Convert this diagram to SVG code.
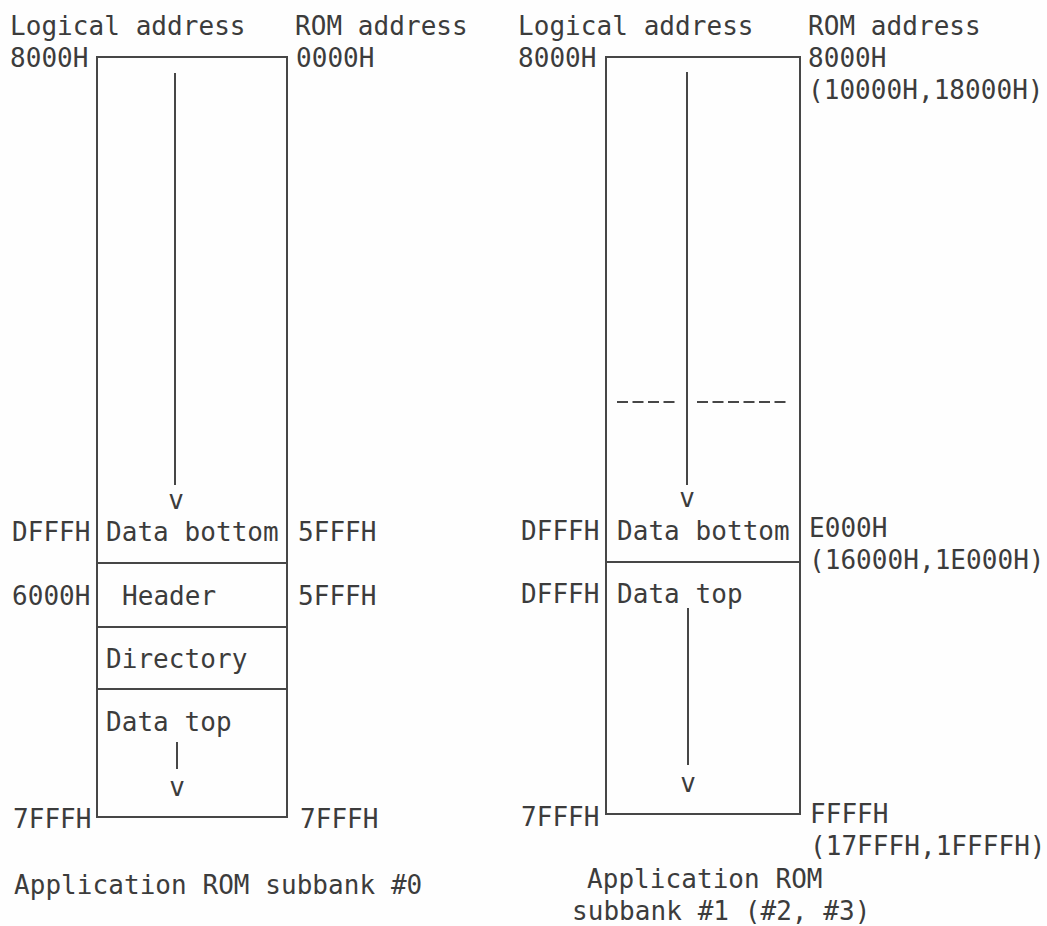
<svg xmlns="http://www.w3.org/2000/svg" width="1047" height="926" viewBox="0 0 1047 926">
<style>
text{font-family:"DejaVu Sans Mono","Liberation Mono",monospace;font-size:26px;letter-spacing:0.05px;fill:#3c3c3c}
.box{fill:none;stroke:#474747;stroke-width:2}
.ln{stroke:#474747;stroke-width:2;fill:none}
.ar{text-anchor:middle}
</style>
<rect width="1047" height="926" fill="#fefefe"/>
<g id="left-headers">
<text x="10" y="35">Logical address</text>
<text x="295" y="35">ROM address</text>
<text x="10" y="67">8000H</text>
<text x="296" y="67">0000H</text>
</g>
<g id="left-subbank0">
<rect class="box" x="97" y="57" width="190" height="760"/>
</g>
<g id="left-data-bottom">
<line class="ln" x1="97" y1="563" x2="287" y2="563"/>
<text x="12" y="541">DFFFH</text>
<text x="106" y="541">Data bottom</text>
<text x="298" y="541">5FFFH</text>
</g>
<g id="left-header">
<line class="ln" x1="97" y1="627" x2="287" y2="627"/>
<text x="12" y="605">6000H</text>
<text x="122" y="605">Header</text>
<text x="298" y="605">5FFFH</text>
</g>
<g id="left-directory">
<line class="ln" x1="97" y1="689" x2="287" y2="689"/>
<text x="106" y="668">Directory</text>
</g>
<g id="left-data-top">
<text x="106" y="731">Data top</text>
<text x="13" y="828">7FFFH</text>
<text x="300" y="828">7FFFH</text>
</g>
<g id="left-caption">
<text x="14" y="894">Application ROM subbank #0</text>
</g>
<g id="right-headers">
<text x="518" y="35">Logical address</text>
<text x="808" y="35">ROM address</text>
<text x="518" y="67">8000H</text>
<text x="808" y="67">8000H</text>
<text x="808" y="99">(10000H,18000H)</text>
</g>
<g id="right-subbank1">
<rect class="box" x="606" y="57" width="194" height="757"/>
<line class="ln" x1="617" y1="402" x2="677" y2="402" stroke-dasharray="11 4.5"/>
<line class="ln" x1="697" y1="402" x2="789" y2="402" stroke-dasharray="11 4.5"/>
</g>
<g id="right-data-bottom">
<line class="ln" x1="606" y1="562" x2="800" y2="562"/>
<text x="521" y="540">DFFFH</text>
<text x="617" y="540">Data bottom</text>
<text x="809" y="537">E000H</text>
<text x="809" y="569">(16000H,1E000H)</text>
</g>
<g id="right-data-top">
<text x="521" y="603">DFFFH</text>
<text x="617" y="603">Data top</text>
<text x="521" y="826">7FFFH</text>
<text x="810" y="823">FFFFH</text>
<text x="810" y="855">(17FFFH,1FFFFH)</text>
</g>
<g id="right-caption">
<text x="587" y="888">Application ROM</text>
<text x="572" y="920">subbank #1 (#2, #3)</text>
</g>
<g id="connectors">
<line class="ln" x1="175" y1="73" x2="175" y2="485"/>
<text class="ar" x="176" y="509">v</text>
<line class="ln" x1="177" y1="742" x2="177" y2="769"/>
<text class="ar" x="177" y="796">v</text>
<line class="ln" x1="687" y1="72" x2="687" y2="485"/>
<text class="ar" x="687" y="507">v</text>
<line class="ln" x1="688" y1="608" x2="688" y2="765"/>
<text class="ar" x="688" y="792">v</text>
</g>
</svg>
